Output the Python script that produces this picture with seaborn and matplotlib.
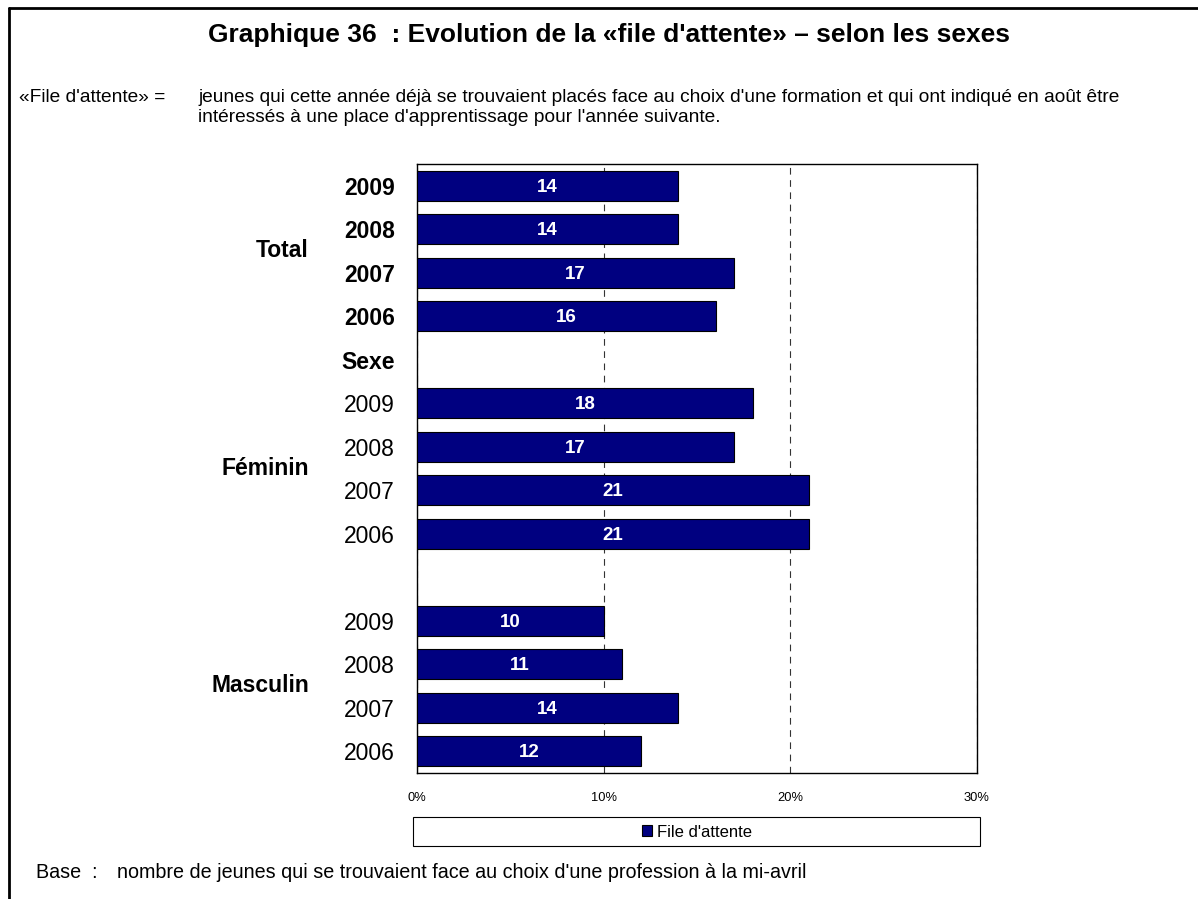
import matplotlib
matplotlib.use("Agg")
import matplotlib.pyplot as plt
from matplotlib.lines import Line2D
from matplotlib.patches import Rectangle
import pandas as pd
import seaborn as sns

# data
rows = ["T2009", "T2008", "T2007", "T2006", "Sexe",
        "F2009", "F2008", "F2007", "F2006", " ",
        "M2009", "M2008", "M2007", "M2006"]
row_labels = ["2009", "2008", "2007", "2006", "Sexe",
              "2009", "2008", "2007", "2006", "",
              "2009", "2008", "2007", "2006"]
bold_rows = [True, True, True, True, True,
             False, False, False, False, False,
             False, False, False, False]
bar_rows = ["T2009", "T2008", "T2007", "T2006",
            "F2009", "F2008", "F2007", "F2006",
            "M2009", "M2008", "M2007", "M2006"]
values = [14, 14, 17, 16, 18, 17, 21, 21, 10, 11, 14, 12]
groups = ["Total", "Féminin", "Masculin"]
group_pos = [1.5, 6.5, 11.5]
x_ticks = [0, 10, 20, 30]
x_ticklabels = ["0%", "10%", "20%", "30%"]
series_name = "File d'attente"

df = pd.DataFrame({"row": bar_rows, "value": values})

sns.set_style("white")
plt.rcParams["font.family"] = ["Liberation Sans", "DejaVu Sans"]
plt.rcParams["text.color"] = "black"
plt.rcParams["xtick.color"] = "black"
plt.rcParams["ytick.color"] = "black"

fig = plt.figure(figsize=(11.98, 8.99), dpi=100)
ax = fig.add_axes([0.3481, 0.1402, 0.4674, 0.6774])

navy = "#000080"
sns.barplot(data=df, y="row", x="value", order=rows, orient="h",
            color=navy, saturation=1, width=0.69, edgecolor="black",
            linewidth=0.8, ax=ax, label=series_name, zorder=3)

# value labels
for r, v in zip(bar_rows, values):
    ax.text(v / 2, rows.index(r) + 0.03, str(v), ha="center", va="center",
            color="white", fontsize=13.5, fontweight="bold", zorder=4)

ax.set_xlim(0, 30)
ax.set_xticks(x_ticks)
ax.set_xticklabels(x_ticklabels, fontsize=9.3)
ax.tick_params(axis="x", length=0, pad=14)
ax.set_yticks(range(len(rows)))
ax.set_yticklabels(row_labels, fontsize=16.5)
ax.tick_params(axis="y", length=0, pad=16)
for lab, b in zip(ax.get_yticklabels(), bold_rows):
    lab.set_fontweight("bold" if b else "normal")
ax.set_xlabel("")
ax.set_ylabel("")

ax.xaxis.grid(True, color="#333333", linestyle=(0, (6, 5)), linewidth=0.8, zorder=0)
ax.yaxis.grid(False)
for s in ax.spines.values():
    s.set_visible(True)
    s.set_color("black")
    s.set_linewidth(1.0)

# group labels
for g, p in zip(groups, group_pos):
    ax.text(-0.193, p, g, transform=ax.get_yaxis_transform(), ha="right",
            va="center", fontsize=16.5, fontweight="bold")

# legend in a wide box under the axis
leg = ax.legend(loc="center", bbox_to_anchor=(0.5, -0.097), frameon=False,
                fontsize=12, handlelength=0.6, handleheight=0.6,
                handletextpad=0.25)
ax.add_patch(Rectangle((-0.007, -0.12), 1.012, 0.047, transform=ax.transAxes,
                       fill=False, edgecolor="black", linewidth=0.8,
                       clip_on=False))

# texts
fig.text(0.508, 0.961, "Graphique 36  : Evolution de la «file d'attente» – selon les sexes",
         ha="center", va="center", fontsize=19, fontweight="bold")
fig.text(19 / 1198, 1 - 97 / 899, "«File d'attente» =", ha="left", va="center",
         fontsize=13.8)
fig.text(198 / 1198, 1 - 97 / 899,
         "jeunes qui cette année déjà se trouvaient placés face au choix d'une formation et qui ont indiqué en août être",
         ha="left", va="center", fontsize=13.8)
fig.text(198 / 1198, 1 - 117 / 899,
         "intéressés à une place d'apprentissage pour l'année suivante.",
         ha="left", va="center", fontsize=13.8)
fig.text(36 / 1198, 1 - 873 / 899, "Base  :", ha="left", va="center", fontsize=14.2)
fig.text(117 / 1198, 1 - 873 / 899,
         "nombre de jeunes qui se trouvaient face au choix d'une profession à la mi-avril",
         ha="left", va="center", fontsize=14.2)

# outer frame (top and left only)
fig.add_artist(Line2D([8.5 / 1198, 8.5 / 1198], [0, 1 - 7.5 / 899],
                      transform=fig.transFigure, color="black", linewidth=2))
fig.add_artist(Line2D([8.5 / 1198, 1], [1 - 7.5 / 899, 1 - 7.5 / 899],
                      transform=fig.transFigure, color="black", linewidth=2))

fig.savefig("out.png", dpi=100, facecolor="white")
